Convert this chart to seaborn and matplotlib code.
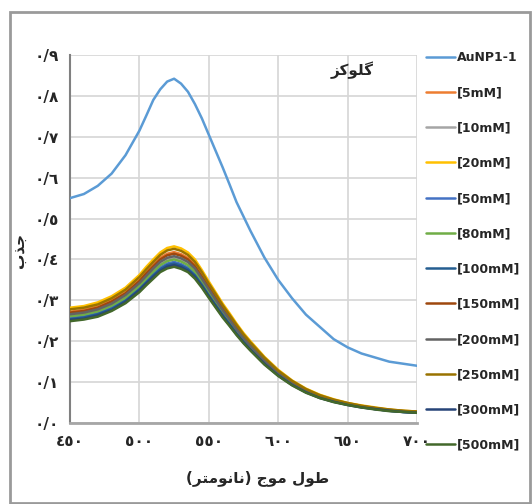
import matplotlib
matplotlib.use("Agg")
import matplotlib.pyplot as plt
import seaborn as sns
import pandas as pd
from matplotlib.patches import Rectangle

# absorbance spectra (wavelength in nm)
wavelength = [450, 460, 470, 480, 490, 500, 505, 510, 515, 520, 525, 530, 535, 540, 545, 550, 555,
              560, 565, 570, 575, 580, 590, 600, 610, 620, 630, 640, 650, 660, 670, 680, 690, 700]

aunp = [0.550, 0.560, 0.580, 0.610, 0.655, 0.715, 0.752, 0.790, 0.816, 0.835, 0.842, 0.830, 0.810,
        0.780, 0.745, 0.705, 0.665, 0.625, 0.583, 0.540, 0.505, 0.470, 0.405, 0.350, 0.305, 0.265,
        0.235, 0.205, 0.185, 0.170, 0.160, 0.150, 0.145, 0.140]
mm5 = [0.272, 0.277, 0.285, 0.300, 0.320, 0.350, 0.369, 0.387, 0.404, 0.414, 0.418, 0.413, 0.404,
       0.387, 0.362, 0.335, 0.309, 0.283, 0.259, 0.235, 0.213, 0.193, 0.157, 0.126, 0.101, 0.081,
       0.067, 0.056, 0.048, 0.042, 0.036, 0.032, 0.029, 0.027]
mm10 = [0.263, 0.267, 0.275, 0.289, 0.310, 0.339, 0.357, 0.374, 0.390, 0.400, 0.404, 0.399, 0.390,
        0.374, 0.350, 0.324, 0.298, 0.273, 0.250, 0.227, 0.206, 0.187, 0.152, 0.122, 0.097, 0.078,
        0.064, 0.054, 0.046, 0.040, 0.035, 0.031, 0.028, 0.026]
mm20 = [0.282, 0.286, 0.295, 0.310, 0.331, 0.362, 0.382, 0.400, 0.417, 0.428, 0.432, 0.427, 0.417,
        0.400, 0.374, 0.346, 0.319, 0.292, 0.268, 0.243, 0.220, 0.200, 0.162, 0.130, 0.104, 0.084,
        0.069, 0.058, 0.049, 0.043, 0.038, 0.033, 0.030, 0.028]
mm50 = [0.257, 0.261, 0.269, 0.282, 0.302, 0.330, 0.348, 0.365, 0.380, 0.390, 0.394, 0.389, 0.380,
        0.365, 0.341, 0.316, 0.291, 0.267, 0.244, 0.221, 0.201, 0.182, 0.148, 0.119, 0.095, 0.076,
        0.063, 0.053, 0.045, 0.039, 0.034, 0.030, 0.027, 0.025]
mm80 = [0.261, 0.265, 0.273, 0.287, 0.306, 0.335, 0.353, 0.370, 0.386, 0.396, 0.400, 0.395, 0.386,
        0.370, 0.346, 0.320, 0.296, 0.271, 0.248, 0.225, 0.204, 0.185, 0.150, 0.120, 0.097, 0.078,
        0.064, 0.054, 0.046, 0.040, 0.035, 0.031, 0.028, 0.026]
mm100 = [0.254, 0.258, 0.266, 0.279, 0.299, 0.327, 0.344, 0.361, 0.376, 0.386, 0.390, 0.385, 0.376,
         0.361, 0.338, 0.312, 0.288, 0.264, 0.242, 0.219, 0.199, 0.180, 0.146, 0.117, 0.094, 0.076,
         0.062, 0.052, 0.045, 0.039, 0.034, 0.030, 0.027, 0.025]
mm150 = [0.270, 0.274, 0.282, 0.297, 0.317, 0.347, 0.366, 0.383, 0.400, 0.410, 0.414, 0.409, 0.400,
         0.383, 0.358, 0.332, 0.306, 0.280, 0.256, 0.233, 0.211, 0.192, 0.156, 0.125, 0.100, 0.080,
         0.066, 0.056, 0.047, 0.041, 0.036, 0.032, 0.029, 0.027]
mm200 = [0.266, 0.270, 0.278, 0.292, 0.313, 0.342, 0.360, 0.378, 0.394, 0.404, 0.408, 0.403, 0.394,
         0.378, 0.353, 0.327, 0.301, 0.276, 0.253, 0.229, 0.208, 0.189, 0.153, 0.123, 0.098, 0.079,
         0.065, 0.055, 0.047, 0.041, 0.036, 0.031, 0.028, 0.026]
mm250 = [0.278, 0.282, 0.290, 0.305, 0.326, 0.357, 0.376, 0.394, 0.411, 0.422, 0.426, 0.421, 0.411,
         0.394, 0.369, 0.341, 0.315, 0.288, 0.264, 0.240, 0.217, 0.197, 0.160, 0.128, 0.103, 0.083,
         0.068, 0.057, 0.049, 0.042, 0.037, 0.033, 0.030, 0.028]
mm300 = [0.252, 0.255, 0.263, 0.276, 0.296, 0.324, 0.341, 0.357, 0.372, 0.382, 0.386, 0.381, 0.372,
         0.357, 0.334, 0.309, 0.285, 0.261, 0.239, 0.217, 0.197, 0.179, 0.145, 0.116, 0.093, 0.075,
         0.061, 0.052, 0.044, 0.038, 0.034, 0.030, 0.027, 0.025]
mm500 = [0.249, 0.253, 0.260, 0.274, 0.293, 0.320, 0.337, 0.353, 0.369, 0.378, 0.382, 0.377, 0.369,
         0.353, 0.331, 0.306, 0.282, 0.258, 0.237, 0.215, 0.195, 0.177, 0.143, 0.115, 0.092, 0.074,
         0.061, 0.051, 0.044, 0.038, 0.033, 0.029, 0.027, 0.025]

series_names = ["AuNP1-1", "[5mM]", "[10mM]", "[20mM]", "[50mM]", "[80mM]",
                "[100mM]", "[150mM]", "[200mM]", "[250mM]", "[300mM]", "[500mM]"]
series_values = [aunp, mm5, mm10, mm20, mm50, mm80, mm100, mm150, mm200, mm250, mm300, mm500]
colors = ["#5b9bd5", "#ed7d31", "#a5a5a5", "#ffc000", "#4472c4", "#70ad47",
          "#255e91", "#9e480e", "#636363", "#997300", "#264478", "#43682b"]

xticks = [450, 500, 550, 600, 650, 700]
xtick_labels = ["٤٥٠", "٥٠٠", "٥٥٠", "٦٠٠", "٦٥٠", "٧٠٠"]
yticks = [0.0, 0.1, 0.2, 0.3, 0.4, 0.5, 0.6, 0.7, 0.8, 0.9]
ytick_labels = ["٠/٠", "٠/١", "٠/٢", "٠/٣", "٠/٤", "٠/٥", "٠/٦", "٠/٧", "٠/٨", "٠/٩"]

# Persian labels in visual (shaped, left-to-right) order
title = "\uFEB0\uFB90\uFEEE\uFEE0\uFB94"                      # گلوکز
ylabel = "\uFE8F\uFEAC\uFE9F"                                 # جذب
xlabel = ("(\uFEAE\uFE98\uFEE3\uFEEE\uFEE7\uFE8E\uFEE7) "
          "\uFE9D\uFEEE\uFEE3 \uFEDD\uFEEE\uFEC3")            # طول موج (نانومتر)

rows = []
for name, vals in zip(series_names, series_values):
    for w, v in zip(wavelength, vals):
        rows.append({"wl": w, "abs": v, "series": name})
df = pd.DataFrame(rows)

sns.set_style("white")
plt.rcParams["font.family"] = ["DejaVu Sans"]

fig = plt.figure(figsize=(5.32, 5.04), dpi=100)
ax = fig.add_axes([70 / 532, 81 / 504, 347 / 532, 368 / 504])

sns.lineplot(data=df, x="wl", y="abs", hue="series", hue_order=series_names,
             palette=dict(zip(series_names, colors)), linewidth=1.8,
             estimator=None, sort=False, ax=ax, zorder=3)

leg = ax.get_legend()
handles = leg.legend_handles
labels = [t.get_text() for t in leg.get_texts()]
leg.remove()
fig.legend(handles, labels, loc="upper left", bbox_to_anchor=(426 / 532, 1 - 51 / 504),
           frameon=False, prop={"size": 9, "weight": "bold"}, handlelength=2.3,
           handletextpad=0.15, labelspacing=1.78, borderpad=0, borderaxespad=0)

ax.set_xlim(450, 700)
ax.set_ylim(0, 0.9)
ax.set_xticks(xticks)
ax.set_xticklabels(xtick_labels, fontsize=11, fontweight="bold")
ax.set_yticks(yticks)
ax.set_yticklabels(ytick_labels, fontsize=11, fontweight="bold")
ax.tick_params(length=0, pad=8)
ax.set_axisbelow(True)
ax.grid(True, color="#d6d6d6", linewidth=1.2)
ax.set_xlabel("")
ax.set_ylabel("")
for s in ["top", "right"]:
    ax.spines[s].set_visible(False)
ax.spines["left"].set_color("#808080")
ax.spines["left"].set_linewidth(1.5)
ax.spines["bottom"].set_color("#a6a6a6")
ax.spines["bottom"].set_linewidth(2)

fig.text(352 / 532, 1 - 70 / 504, title, ha="center", va="center", fontsize=11, fontweight="bold")
fig.text(20 / 532, 1 - 250 / 504, ylabel, ha="center", va="center", rotation=90,
         fontsize=11, fontweight="bold")
fig.text(258 / 532, 1 - 478 / 504, xlabel, ha="center", va="center", fontsize=11, fontweight="bold")

fig.add_artist(Rectangle((10 / 532, 1 / 504), 520 / 532, 491 / 504, transform=fig.transFigure,
                         fill=False, edgecolor="#9a9a9a", linewidth=2))

fig.savefig("out.png", dpi=100)
